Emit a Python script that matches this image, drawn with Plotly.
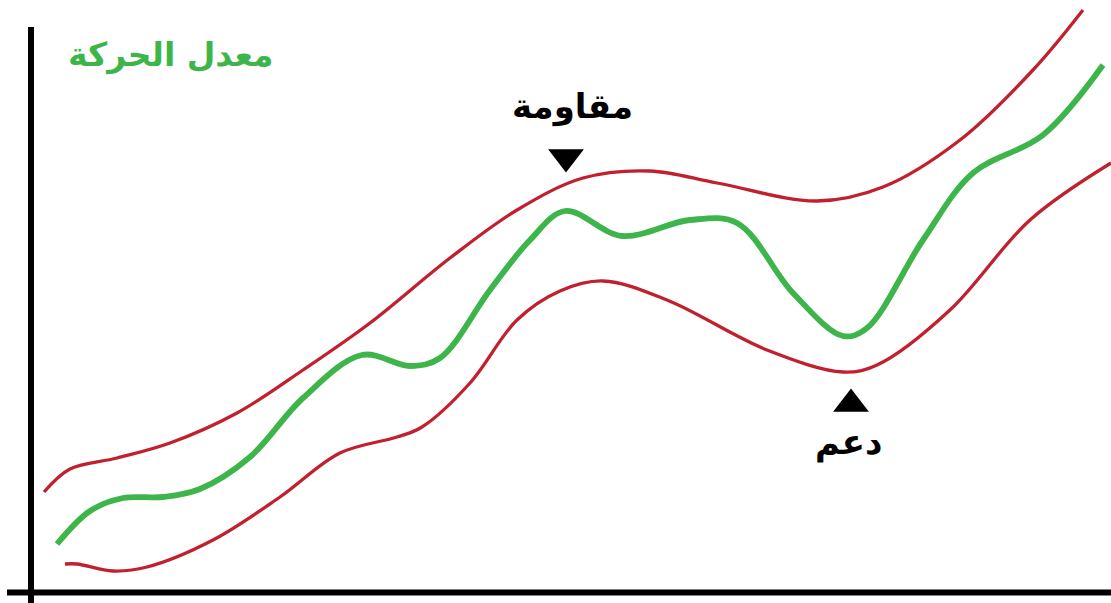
import plotly.graph_objects as go

# Upper band (red)
upper_x = [44, 70, 117, 170, 237, 303, 370, 450, 517, 583, 650, 717, 817, 883, 960, 1033, 1083]
upper_y = [492, 469, 458, 443, 413, 370, 323, 258, 210, 178, 171, 183, 201, 187, 140, 70, 10]

# Moving average (green)
mid_x = [57, 90, 123, 163, 200, 250, 303, 362, 410, 440, 490, 530, 565, 622, 690, 737, 793, 843, 867, 923, 973, 1043, 1103]
mid_y = [544, 511, 498, 497, 489, 457, 398, 355, 366, 358, 290, 240, 211, 236, 220, 223, 293, 336, 328, 240, 173, 135, 65]

# Lower band (red)
lower_x = [65, 77, 113, 147, 213, 280, 340, 397, 422, 470, 517, 560, 603, 667, 767, 843, 877, 950, 1030, 1111]
lower_y = [564, 564, 571, 567, 540, 497, 453, 437, 427, 383, 320, 291, 281, 300, 350, 372, 365, 310, 220, 163]

title_text = "معدل الحركة"
resist_text = "مقاومة"
support_text = "دعم"
resist_pt = (566, 157)
support_pt = (851, 404)

RED = "#C1202F"
GREEN = "#3DB54A"

fig = go.Figure()
fig.add_trace(go.Scatter(x=upper_x, y=upper_y, mode="lines",
                         line=dict(color=RED, width=3.3, shape="spline", smoothing=1.0)))
fig.add_trace(go.Scatter(x=lower_x, y=lower_y, mode="lines",
                         line=dict(color=RED, width=3.3, shape="spline", smoothing=1.0)))
fig.add_trace(go.Scatter(x=mid_x, y=mid_y, mode="lines",
                         line=dict(color=GREEN, width=5.8, shape="spline", smoothing=1.0)))
fig.add_trace(go.Scatter(x=[resist_pt[0]], y=[resist_pt[1]], mode="markers",
                         marker=dict(symbol="triangle-down", size=31, color="black", line=dict(width=0))))
fig.add_trace(go.Scatter(x=[support_pt[0]], y=[support_pt[1]], mode="markers",
                         marker=dict(symbol="triangle-up", size=31, color="black", line=dict(width=0))))

# axes lines
fig.add_shape(type="line", x0=31, x1=31, y0=27, y1=603, line=dict(color="black", width=6))
fig.add_shape(type="line", x0=7, x1=1111, y0=592.5, y1=592.5, line=dict(color="black", width=6))

fig.add_annotation(x=170, y=55, text="<b>" + title_text + "</b>", showarrow=False,
                   font=dict(family="DejaVu Sans", size=33, color=GREEN))
fig.add_annotation(x=572, y=106, text="<b>" + resist_text + "</b>", showarrow=False,
                   font=dict(family="DejaVu Sans", size=34, color="black"))
fig.add_annotation(x=848, y=442, text="<b>" + support_text + "</b>", showarrow=False,
                   font=dict(family="DejaVu Sans", size=34, color="black"))

fig.update_layout(
    width=1111, height=603,
    margin=dict(l=0, r=0, t=0, b=0),
    paper_bgcolor="white", plot_bgcolor="white",
    showlegend=False,
    xaxis=dict(range=[0, 1111], visible=False, fixedrange=True),
    yaxis=dict(range=[603, 0], visible=False, fixedrange=True),
)
fig.write_html("out.html", config={"displayModeBar": False},
               post_script="document.body.style.margin='0';document.body.style.overflow='hidden';")
